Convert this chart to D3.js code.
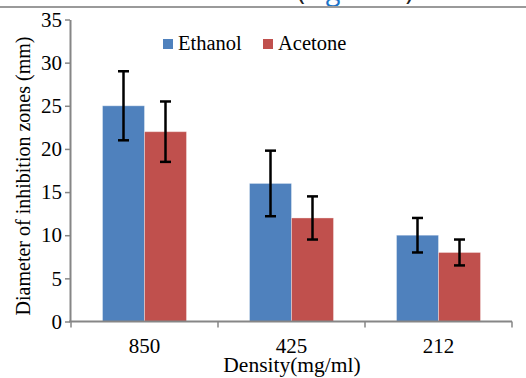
<!DOCTYPE html>
<html>
<head>
<meta charset="utf-8">
<script src="https://cdn.jsdelivr.net/npm/d3@7"></script>
<style>
  body { margin: 0; background: #fff; }
  svg { display: block; }
</style>
</head>
<body>
<svg id="svg" width="526" height="378"></svg>
<script>
const w = 526;
const h = 378;

// data
const categories = ["850", "425", "212"];
const series = ["Ethanol", "Acetone"];
const ethanol = [25, 16, 10];
const ethanolErr = [4, 3.8, 2];
const acetone = [22, 12, 8];
const acetoneErr = [3.5, 2.5, 1.5];
const yTicks = [0, 5, 10, 15, 20, 25, 30, 35];
const colors = ["#4F81BD", "#C0504D"];

const values = [ethanol, acetone];
const errors = [ethanolErr, acetoneErr];

let svg = d3.select("#svg");

const plotLeft = 71, plotRight = 512, plotTop = 19.5, plotBottom = 321.5;
const axisColor = "#868686";
const serif = "'Liberation Serif', 'Times New Roman', serif";

let yScale = d3.scaleLinear([0, 35], [plotBottom, plotTop]);
let x0 = d3.scaleBand(categories, [plotLeft, plotRight]).padding(0);
let x1 = d3.scaleBand(series, [0, x0.bandwidth()]).paddingInner(0).paddingOuter(0.75);

// caption line of the page, cut off by the crop
svg.append("text")
  .attr("x", 297)
  .attr("y", 0)
  .attr("font-family", "'Open Sans', Arial, sans-serif")
  .attr("font-size", 27)
  .attr("fill", "#222")
  .html('(<tspan fill="#1a73c8">Figure 1</tspan>)');

svg.append("line")
  .attr("x1", 0).attr("x2", w)
  .attr("y1", 7).attr("y2", 7)
  .attr("stroke", "#9a9a9a")
  .attr("stroke-width", 2);

// bars
const rows = [];
series.forEach((s, si) => {
  categories.forEach((c, ci) => {
    rows.push({ s, c, si, v: values[si][ci], e: errors[si][ci] });
  });
});

svg.append("g")
  .selectAll("rect")
  .data(rows)
  .join("rect")
  .attr("x", (d) => x0(d.c) + x1(d.s))
  .attr("y", (d) => yScale(d.v))
  .attr("width", x1.bandwidth())
  .attr("height", (d) => yScale(0) - yScale(d.v))
  .attr("fill", (d) => colors[d.si])
  .attr("stroke", "rgba(255,255,255,0.35)")
  .attr("stroke-width", 1);

// error bars
const capW = 11;
let eg = svg.append("g").attr("stroke", "#000").attr("stroke-width", 2.5);
rows.forEach((d) => {
  const cx = x0(d.c) + x1(d.s) + x1.bandwidth() / 2;
  const yt = yScale(d.v + d.e);
  const yb = yScale(d.v - d.e);
  eg.append("line").attr("x1", cx).attr("x2", cx).attr("y1", yt).attr("y2", yb);
  eg.append("line").attr("x1", cx - capW / 2).attr("x2", cx + capW / 2).attr("y1", yt).attr("y2", yt);
  eg.append("line").attr("x1", cx - capW / 2).attr("x2", cx + capW / 2).attr("y1", yb).attr("y2", yb);
});

// y axis
let yAxis = svg.append("g")
  .attr("transform", `translate(${plotLeft - 1},0)`)
  .call(d3.axisLeft(yScale).tickValues(yTicks).tickSize(5).tickSizeOuter(0).tickPadding(3));
yAxis.select(".domain").attr("stroke", axisColor).attr("stroke-width", 2);
yAxis.selectAll(".tick line").attr("stroke", axisColor).attr("stroke-width", 1.5);
yAxis.selectAll(".tick text")
  .attr("font-family", serif)
  .attr("font-size", 21)
  .attr("fill", "#000");

// x axis
let xAxis = svg.append("g").attr("transform", `translate(0,${plotBottom})`);
xAxis.append("line")
  .attr("x1", plotLeft - 2).attr("x2", plotRight)
  .attr("stroke", axisColor).attr("stroke-width", 2);
const bounds = categories.map((c) => x0(c)).concat([x0(categories[categories.length - 1]) + x0.bandwidth()]);
xAxis.selectAll(".xtick")
  .data(bounds)
  .join("line")
  .attr("x1", (d) => d).attr("x2", (d) => d)
  .attr("y1", 0).attr("y2", 6)
  .attr("stroke", axisColor).attr("stroke-width", 1.5);
xAxis.selectAll(".xlabel")
  .data(categories)
  .join("text")
  .attr("x", (d) => x0(d) + x0.bandwidth() / 2)
  .attr("y", 31)
  .attr("text-anchor", "middle")
  .attr("font-family", serif)
  .attr("font-size", 21)
  .text((d) => d);

// axis titles
svg.append("text")
  .attr("x", 292)
  .attr("y", 372)
  .attr("text-anchor", "middle")
  .attr("font-family", serif)
  .attr("font-size", 21.5)
  .text("Density(mg/ml)");

svg.append("text")
  .attr("transform", "translate(30,176) rotate(-90)")
  .attr("text-anchor", "middle")
  .attr("font-family", serif)
  .attr("font-size", 20)
  .text("Diameter of inhibition zones (mm)");

// legend
const legendX = [163, 263];
let lg = svg.append("g");
series.forEach((s, i) => {
  lg.append("rect")
    .attr("x", legendX[i]).attr("y", 39)
    .attr("width", 10).attr("height", 10)
    .attr("fill", colors[i]);
  lg.append("text")
    .attr("x", legendX[i] + 15).attr("y", 50)
    .attr("font-family", serif)
    .attr("font-size", 20.5)
    .text(s);
});
</script>
</body>
</html>
